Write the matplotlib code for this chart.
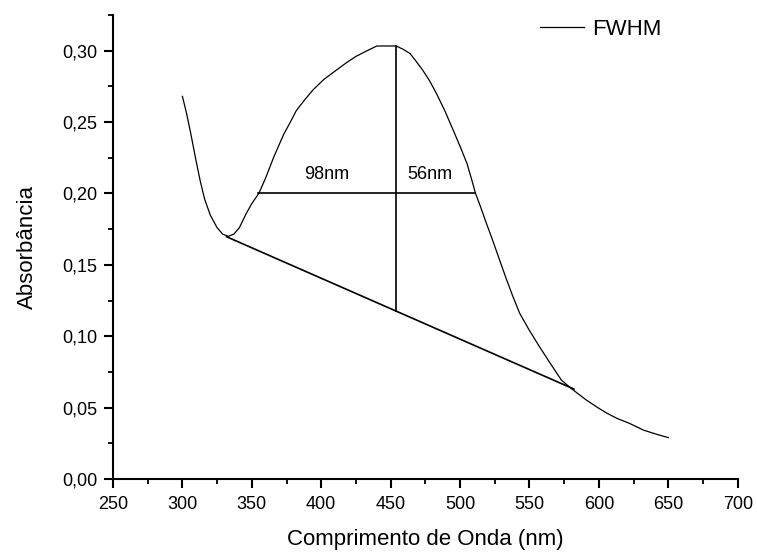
import matplotlib.pyplot as plt
from matplotlib.ticker import MultipleLocator

plt.rcParams['font.family'] = ['Liberation Sans', 'DejaVu Sans']

# absorption spectrum
wavelength = [300, 303, 306, 310, 313, 316, 320, 325, 329, 333, 337, 341, 346,
              350, 355, 360, 366, 373, 378, 382, 388, 394, 402, 411, 418, 425,
              432, 440, 447, 454, 459, 464, 468, 473, 478, 483, 489, 495, 500,
              505, 508, 511, 515, 519, 523, 527, 533, 538, 543, 550, 557, 565,
              573, 580, 586, 591, 600, 606, 613, 622, 632, 641, 650]
absorbance = [0.268, 0.256, 0.242, 0.222, 0.208, 0.196, 0.185, 0.176, 0.1715,
              0.1700, 0.1715, 0.1760, 0.1860, 0.193, 0.200, 0.211, 0.226,
              0.2415, 0.2505, 0.258, 0.2655, 0.2725, 0.2800, 0.2865, 0.2915,
              0.2960, 0.2995, 0.3033, 0.3033, 0.3033, 0.3010, 0.2980, 0.2930,
              0.2865, 0.2790, 0.2700, 0.2580, 0.2445, 0.2330, 0.2210, 0.2110,
              0.2005, 0.1900, 0.1790, 0.1685, 0.1575, 0.1410, 0.1280, 0.1160,
              0.1040, 0.0930, 0.0810, 0.0693, 0.0635, 0.0590, 0.0553, 0.0495,
              0.0460, 0.0425, 0.0390, 0.0343, 0.0315, 0.0290]

# FWHM construction
baseline_x = [331.8, 582.0]
baseline_y = [0.1697, 0.063]
peak_x = 454.2
peak_y = [0.1177, 0.3033]
half_y = 0.2005
half_x = [354.6, 510.6]
left_label, right_label = '98nm', '56nm'

fig = plt.figure(figsize=(7.57, 5.52), dpi=100)
ax = fig.add_axes([0.1493, 0.1322, 0.8252, 0.8406])

ax.plot(wavelength, absorbance, color='black', lw=0.9, label='FWHM')
ax.plot(baseline_x, baseline_y, color='black', lw=1.2)
ax.plot([peak_x, peak_x], peak_y, color='black', lw=1.2)
ax.plot(half_x, [half_y, half_y], color='black', lw=1.2)
ax.text(403.8, 0.213, left_label, ha='center', va='center', fontsize=13)
ax.text(478.2, 0.213, right_label, ha='center', va='center', fontsize=13)

ax.set_xlim(250, 700)
ax.set_ylim(0, 0.325)
ax.xaxis.set_major_locator(MultipleLocator(50))
ax.xaxis.set_minor_locator(MultipleLocator(25))
ax.yaxis.set_major_locator(MultipleLocator(0.05))
ax.yaxis.set_minor_locator(MultipleLocator(0.025))
ax.yaxis.set_major_formatter(plt.FuncFormatter(lambda v, p: ('%.2f' % v).replace('.', ',')))

for s in ['top', 'right']:
    ax.spines[s].set_visible(False)
for s in ['left', 'bottom']:
    ax.spines[s].set_linewidth(1.5)
ax.tick_params(which='major', direction='out', length=6.5, width=1.5, labelsize=13)
ax.tick_params(which='minor', direction='out', length=3.6, width=1.3)
ax.tick_params(axis='x', which='major', pad=6)
ax.tick_params(axis='y', which='major', pad=5)

ax.set_xlabel('Comprimento de Onda (nm)', fontsize=16, labelpad=11)
ax.set_ylabel('Absorbância', fontsize=16, labelpad=17)

fig.legend(loc='center left', bbox_to_anchor=(540 / 757, 1 - 29.3 / 552),
           frameon=False, fontsize=16, handlelength=2.0, handletextpad=0.36,
           borderpad=0, borderaxespad=0)

fig.savefig('out.png', dpi=100)
